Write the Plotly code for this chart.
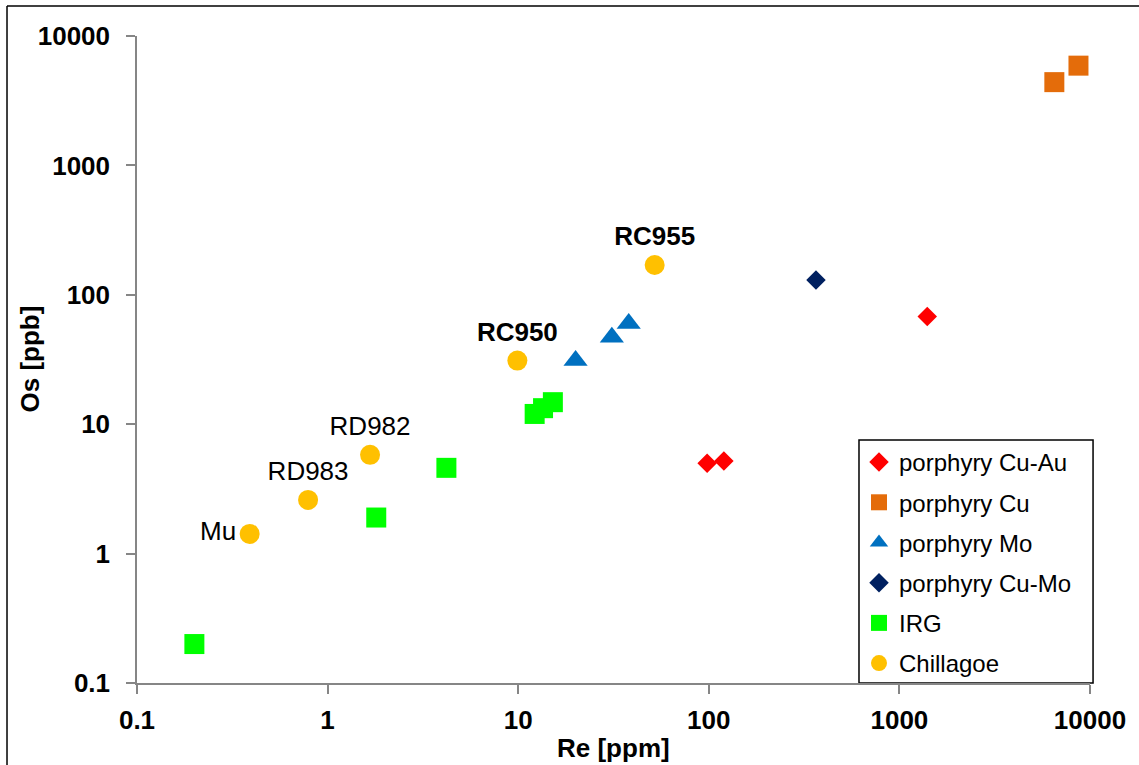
import plotly.graph_objects as go

# Re (ppm) vs Os (ppb) by deposit type
cu_au_re = [98, 120, 1400]
cu_au_os = [5.0, 5.2, 68]

cu_re = [6500, 8700]
cu_os = [4400, 5900]

mo_re = [20, 31, 38]
mo_os = [31, 47, 60]

cumo_re = [365]
cumo_os = [130]

irg_re = [0.2, 1.8, 4.2, 12.2, 13.5, 15.2]
irg_os = [0.2, 1.9, 4.6, 12.0, 13.3, 14.8]

chill_re = [0.39, 0.79, 1.67, 9.9, 52]
chill_os = [1.42, 2.6, 5.8, 31, 170]
chill_labels = ["Mu", "RD983", "RD982", "<b>RC950</b>", "<b>RC955</b>"]
chill_label_pos = ["middle left", "top center", "top center", "top center", "top center"]

tick_vals = [0.1, 1, 10, 100, 1000, 10000]
tick_text = ["0.1", "1", "10", "100", "1000", "10000"]

FONT = "Liberation Sans, Arial, sans-serif"
AXIS_GREY = "#868686"
TITLE_FONT = dict(family=FONT, size=26, color="black", weight="bold")

fig = go.Figure()

series = [
    ("porphyry Cu-Au", cu_au_re, cu_au_os, "diamond", "#FF0000", 15),
    ("porphyry Cu", cu_re, cu_os, "square", "#E46C0A", 20),
    ("porphyry Mo", mo_re, mo_os, "triangle-up", "#0070C0", 21),
    ("porphyry Cu-Mo", cumo_re, cumo_os, "diamond", "#002060", 15),
    ("IRG", irg_re, irg_os, "square", "#00FF00", 20),
]
for i, (name, xs, ys, sym, col, size) in enumerate(series):
    fig.add_trace(go.Scatter(
        x=xs, y=ys, mode="markers", name=name, legendgroup=f"g{i}",
        marker=dict(symbol=sym, color=col, size=size, line=dict(width=0)),
    ))

fig.add_trace(go.Scatter(
    x=chill_re, y=chill_os, mode="markers+text", name="Chillagoe", legendgroup="g5",
    marker=dict(symbol="circle", color="#FFC000", size=20, line=dict(width=0)),
    text=chill_labels, textposition=chill_label_pos,
    textfont=dict(family=FONT, size=26, color="black"),
))

axis_common = dict(
    type="log",
    tickvals=tick_vals,
    ticktext=tick_text,
    showgrid=False,
    zeroline=False,
    showline=True,
    linecolor=AXIS_GREY,
    linewidth=1.5,
    ticks="outside",
    ticklen=9,
    tickwidth=1.5,
    tickcolor=AXIS_GREY,
    tickfont=dict(family=FONT, size=26, color="black", weight="bold"),
    automargin=False,
)

fig.update_layout(
    width=1139,
    height=765,
    margin=dict(l=137, r=49, t=36, b=82),
    paper_bgcolor="white",
    plot_bgcolor="white",
    font=dict(family=FONT, size=24, color="black"),
    xaxis=dict(axis_common, range=[-1, 4], ticklabelstandoff=4),
    yaxis=dict(axis_common, range=[-1, 4], ticklabelstandoff=11),
    legend=dict(
        x=0.7576, xanchor="left",
        y=0.3756, yanchor="top",
        bgcolor="rgba(0,0,0,0)",
        borderwidth=0,
        font=dict(family=FONT, size=24, color="black"),
        traceorder="grouped",
        tracegroupgap=6,
        itemsizing="trace",
    ),
    showlegend=True,
    annotations=[
        dict(text="Re [ppm]", xref="paper", yref="paper", x=0.5, y=-0.1252,
             xanchor="center", yanchor="bottom", showarrow=False, font=TITLE_FONT,
             borderpad=0),
        dict(text="Os [ppb]", xref="paper", yref="paper", x=-0.1133, y=0.5,
             xanchor="center", yanchor="middle", textangle=-90, showarrow=False, font=TITLE_FONT),
    ],
    shapes=[
        # legend frame
        dict(type="rect", xref="paper", yref="paper", x0=0.7576, x1=1.0032, y0=0.0, y1=0.3756,
             line=dict(color="black", width=1.5), fillcolor="white", layer="below"),
        # outer chart frame (left and top edges)
        dict(type="line", xref="paper", yref="paper", x0=-0.1364, x1=-0.1364, y0=-0.2, y1=1.0464,
             line=dict(color="black", width=1.5)),
        dict(type="line", xref="paper", yref="paper", x0=-0.1364, x1=1.1, y0=1.0464, y1=1.0464,
             line=dict(color="black", width=1.5)),
    ],
)

fig.write_html("out.html")
